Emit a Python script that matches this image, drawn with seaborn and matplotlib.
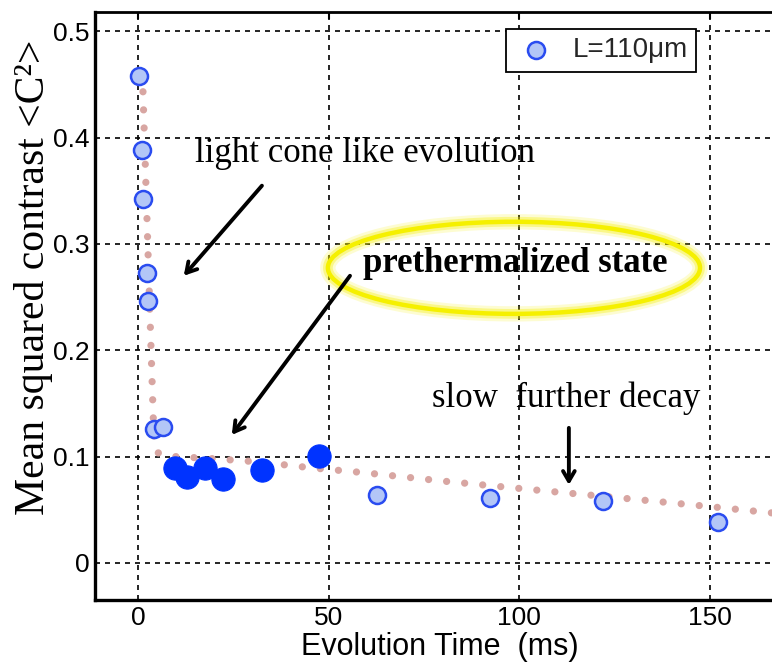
import matplotlib
matplotlib.use("Agg")
import matplotlib.pyplot as plt
import seaborn as sns
import pandas as pd
from matplotlib.patches import Ellipse

# ---- data ----
early_t = [0.3, 1.0, 1.4, 2.3, 2.6, 4.2, 6.6, 62.7, 92.3, 122.0, 152.0]
early_c = [0.458, 0.388, 0.342, 0.273, 0.246, 0.126, 0.128, 0.064, 0.061, 0.058, 0.039]

pre_t = [9.7, 12.8, 17.5, 22.3, 32.5, 47.4]
pre_c = [0.0895, 0.081, 0.0895, 0.079, 0.0877, 0.101]

curve_t = [0.8, 1.3, 2.3, 3.3, 4.2, 5.0, 7.0, 10.0, 20.0, 31.7, 45.3, 59.0, 80.0, 109.0, 127.0, 150.0, 172.0]
curve_c = [0.460, 0.444, 0.330, 0.215, 0.115, 0.104, 0.101, 0.100, 0.098, 0.095, 0.0895, 0.085, 0.077, 0.067, 0.061, 0.053, 0.045]

x_ticks = [0, 50, 100, 150]
y_ticks = [0, 0.1, 0.2, 0.3, 0.4, 0.5]
y_ticklabels = ["0", "0.1", "0.2", "0.3", "0.4", "0.5"]

legend_label = "L=110\u03bcm"

sns.set_theme(style="white")
plt.rcParams["font.family"] = ["Liberation Sans", "DejaVu Sans"]

W, H = 772, 670
fig = plt.figure(figsize=(W / 100, H / 100), dpi=100)
ax = fig.add_axes([95 / W, (H - 600) / H, (785 - 95) / W, (600 - 12) / H])

df_curve = pd.DataFrame({"t": curve_t, "c": curve_c})
df_early = pd.DataFrame({"t": early_t, "c": early_c})
df_pre = pd.DataFrame({"t": pre_t, "c": pre_c})

sns.lineplot(data=df_curve, x="t", y="c", ax=ax, sort=False, color="#d8a6a2",
             linewidth=5.2, zorder=2, legend=False)
line = ax.lines[-1]
line.set_dashes((0.01, 2.5))
line.set_dash_capstyle("round")

sns.scatterplot(data=df_early, x="t", y="c", ax=ax, s=150, color="#b3c6f7",
                edgecolor="#2a4cf0", linewidth=1.8, zorder=4, label=legend_label)
sns.scatterplot(data=df_pre, x="t", y="c", ax=ax, s=280, color="#0033ff",
                edgecolor="#0033ff", linewidth=0.8, zorder=4, label="_nolegend_")

ax.set_xlim((95 - 138) / 3.813, (785 - 138) / 3.813)
ax.set_ylim(-0.0348, 0.518)
ax.set_xticks(x_ticks)
ax.set_xticklabels([str(v) for v in x_ticks])
ax.set_yticks(y_ticks)
ax.set_yticklabels(y_ticklabels)

ax.grid(True, color="black", linestyle=(0, (3, 3)), linewidth=1.2)
ax.tick_params(direction="in", length=5, width=1.5, top=True, labelsize=19,
               colors="black", pad=4)
for s in ["left", "bottom"]:
    ax.spines[s].set_linewidth(2.4)
    ax.spines[s].set_color("black")
ax.spines["top"].set_linewidth(2.0)
ax.spines["top"].set_color("black")
ax.spines["right"].set_visible(False)

ax.set_xlabel("Evolution Time  (ms)", fontsize=22, color="black", labelpad=2)
ax.set_ylabel("Mean squared contrast <C\u00b2>", fontsize=30, color="black",
              family=["Liberation Serif", "DejaVu Serif"])
ax.yaxis.label.set_verticalalignment("center")
ax.yaxis.set_label_coords((34 - 95) / 690, (600 - 277) / 588)

serif = ["Liberation Serif", "DejaVu Serif"]
ax.text(14.9, 0.377, "light cone like evolution", fontsize=25, family=serif,
        ha="left", va="baseline", color="black", zorder=6)
ax.text(59.0, 0.2738, "prethermalized state", fontsize=25, family=serif,
        fontweight="bold", ha="left", va="baseline", color="black", zorder=6)
ax.text(77.1, 0.1468, "slow  further decay", fontsize=25, family=serif,
        ha="left", va="baseline", color="black", zorder=6)

arrow_kw = dict(arrowstyle="->,head_length=0.6,head_width=0.35", color="black",
                lw=2.8, shrinkA=0, shrinkB=0)
ax.annotate("", xy=(12.0, 0.270), xytext=(32.5, 0.3547), arrowprops=arrow_kw, zorder=6)
ax.annotate("", xy=(24.6, 0.1204), xytext=(55.6, 0.270), arrowprops=arrow_kw, zorder=6)
ax.annotate("", xy=(113.0, 0.0734), xytext=(113.0, 0.127), arrowprops=arrow_kw, zorder=6)

for lw, al in [(11, 0.18), (7, 0.35), (3.2, 1.0)]:
    ax.add_patch(Ellipse((98.6, 0.2775), 97.6, 0.0866, fill=False,
                         edgecolor="#f5f000", lw=lw, alpha=al, zorder=5))

leg = ax.legend(loc="upper right", bbox_to_anchor=(696 / W, 1 - 29 / H),
                bbox_transform=fig.transFigure, borderaxespad=0, fontsize=20,
                frameon=True, fancybox=False, edgecolor="black",
                handletextpad=0.5, handlelength=1.6, borderpad=0.3)
leg.get_frame().set_linewidth(1.3)
leg.get_frame().set_facecolor("white")
leg.get_frame().set_alpha(1.0)

fig.savefig("out.png", dpi=100)
